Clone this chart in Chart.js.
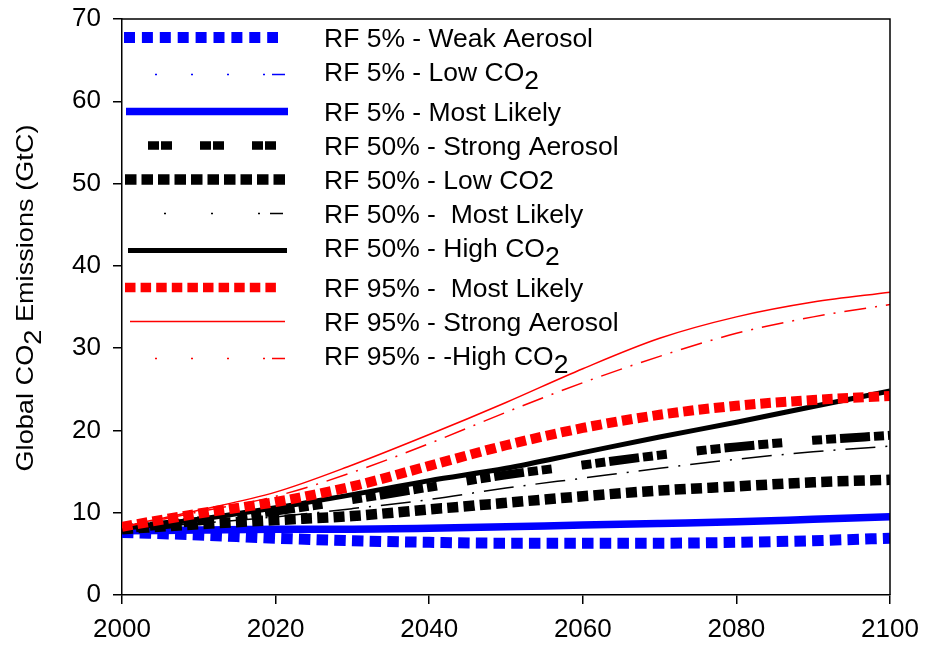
<!DOCTYPE html>
<html><head><meta charset="utf-8">
<script src="https://cdn.jsdelivr.net/npm/chart.js@4/dist/chart.umd.min.js"></script>
<style>html,body{margin:0;padding:0;background:#fff}#wrap{width:925px;height:649px;position:relative}</style>
</head><body><div id="wrap"><canvas id="c"></canvas></div>
<script>
// ---- data (GtC) ----
const years = [2000,2010,2020,2030,2040,2050,2060,2070,2080,2090,2100];
const rf5WeakAerosol    = [7.6,7.3,6.9,6.6,6.4,6.3,6.3,6.3,6.4,6.6,6.9];
const rf5LowCO2         = [7.7,7.8,7.9,7.9,8.0,8.2,8.4,8.6,8.8,9.1,9.4];
const rf5MostLikely     = [7.8,7.9,8.0,8.0,8.1,8.3,8.5,8.7,8.9,9.2,9.5];
const rf50StrongAerosol = [8.0,9.0,10.2,11.6,13.1,14.6,15.8,17.0,18.0,18.8,19.4];
const rf50LowCO2        = [8.0,8.6,9.1,9.6,10.4,11.2,12.0,12.7,13.2,13.7,14.0];
const rf50MostLikely    = [8.0,8.7,9.5,10.5,11.6,13.0,14.2,15.4,16.5,17.4,18.1];
const rf50HighCO2       = [8.1,9.2,10.6,12.2,13.9,15.4,17.3,19.2,21.0,22.9,24.8];
const rf95MostLikely    = [8.3,9.9,11.3,13.2,15.7,18.2,20.3,21.9,23.0,23.7,24.2];
const rf95StrongAerosol = [8.3,10.3,12.5,15.8,19.5,23.4,27.5,31.2,33.8,35.6,36.8];
const rf95HighCO2       = [8.2,10.1,12.0,14.9,18.4,22.2,25.8,29.0,31.8,33.8,35.3];

const seriesLabels = [
  'RF 5% - Weak Aerosol',
  'RF 5% - Low CO_2',
  'RF 5% - Most Likely',
  'RF 50% - Strong Aerosol',
  'RF 50% - Low CO2',
  'RF 50% -  Most Likely',
  'RF 50% - High CO_2',
  'RF 95% -  Most Likely',
  'RF 95% - Strong Aerosol',
  'RF 95% - -High CO_2'
];
const xTicks = [2000,2020,2040,2060,2080,2100];
const yTicks = [0,10,20,30,40,50,60,70];
const yTitle = 'Global CO_2 Emissions (GtC)';

// ---- styles ----
const BLUE = '#0000ff', BLACK = '#000000', RED = '#ff0000';
const DASHDOT_LEGEND = [2,34,2,34,2,34,2,7,13,1000];
const styles = [
  {c:BLUE,  w:11,  dash:[11.5,6.2], lw:11, ldash:[11,6.9], lx:[124,278]},
  {c:BLUE,  w:1.5, dash:[22,8,2,8], lw:1.5, ldash:DASHDOT_LEGEND, lx:[155,285]},
  {c:BLUE,  w:7.5, dash:[], lw:7.5, ldash:[], lx:[126,288]},
  {c:BLACK, w:9,   dash:[10,4,10,4,30,4,10,4,10,30], lw:8.5, ldash:[11,2,11,28], lx:[148,276]},
  {c:BLACK, w:10.5,dash:[11,5.3], lw:10.5, ldash:[11.5,5], lx:[125,285]},
  {c:BLACK, w:1.5, dash:[30,10,2,10], lw:1.5, ldash:[2,45,2,45,2,10,13,1000], lx:[164,285]},
  {c:BLACK, w:5,   dash:[], lw:5, ldash:[], lx:[128,287]},
  {c:RED,   w:10,  dash:[10.5,5], lw:9.5, ldash:[10.5,5.1], lx:[125,276]},
  {c:RED,   w:1.5, dash:[], lw:1.5, ldash:[], lx:[130,285]},
  {c:RED,   w:1.5, dash:[22,9,2,9], lw:1.5, ldash:DASHDOT_LEGEND, lx:[155,285]}
];
const seriesData = [rf5WeakAerosol, rf5LowCO2, rf5MostLikely, rf50StrongAerosol, rf50LowCO2,
  rf50MostLikely, rf50HighCO2, rf95MostLikely, rf95StrongAerosol, rf95HighCO2];

const FONT = '"Liberation Sans", Arial, sans-serif';

function richWidth(ctx, text){
  let w = 0;
  for (const p of text.split(/(_\d)/)) { if (!p) continue; w += ctx.measureText(p[0]==='_'?p.slice(1):p).width; }
  return w;
}
function drawRich(ctx, text, x, y, size, sx){
  ctx.save(); ctx.translate(x, y); ctx.scale(sx, 1);
  let cx = 0;
  for (const p of text.split(/(_\d)/)) {
    if (!p) continue;
    if (p[0]==='_') { const t=p.slice(1); ctx.fillText(t, cx, size*0.33); cx += ctx.measureText(t).width; }
    else { ctx.fillText(p, cx, 0); cx += ctx.measureText(p).width; }
  }
  ctx.restore();
}

const datasets = seriesData.map((arr,i)=>({
  label: seriesLabels[i],
  data: years.map((x,k)=>({x:x, y:arr[k]})),
  borderColor: styles[i].c,
  backgroundColor: styles[i].c,
  borderWidth: styles[i].w,
  borderDash: styles[i].dash,
  borderCapStyle: 'butt',
  borderJoinStyle: 'miter',
  pointRadius: 0,
  fill: false,
  cubicInterpolationMode: 'monotone',
  order: seriesData.length - i
}));

const legendPlugin = {
  id: 'customLegend',
  afterDraw(chart){
    const ctx = chart.ctx;
    const size = 25.5;
    ctx.save();
    ctx.font = size + 'px ' + FONT;
    ctx.textBaseline = 'alphabetic';
    ctx.fillStyle = '#000';
    const sx = 269 / ctx.measureText(seriesLabels[0]).width;
    let base = 47;
    chart.data.datasets.forEach((d,i)=>{
      const st = styles[i];
      const hasSub = /_\d/.test(d.label);
      const sy = base - (hasSub ? 6.5 : 9.5);
      ctx.save();
      ctx.strokeStyle = st.c; ctx.lineWidth = st.lw; ctx.lineCap = 'butt';
      ctx.setLineDash(st.ldash);
      ctx.beginPath(); ctx.moveTo(st.lx[0], sy); ctx.lineTo(st.lx[1], sy); ctx.stroke();
      ctx.restore();
      drawRich(ctx, d.label, 324, base, size, sx);
      base += hasSub ? 40 : 34;
    });
    // y axis title
    const ts = 24.5;
    ctx.font = ts + 'px ' + FONT;
    const tw = richWidth(ctx, yTitle);
    const tsx = 347 / tw;
    ctx.translate(33, 298);
    ctx.rotate(-Math.PI/2);
    drawRich(ctx, yTitle, -tw*tsx/2, 0, ts, tsx);
    ctx.restore();
    // frame
    const a = chart.chartArea;
    ctx.save();
    ctx.strokeStyle = '#000'; ctx.lineWidth = 1.5;
    ctx.beginPath();
    ctx.moveTo(a.left, a.top); ctx.lineTo(a.right, a.top); ctx.lineTo(a.right, a.bottom);
    ctx.stroke();
    ctx.restore();
  }
};

new Chart(document.getElementById('c'), {
  type: 'line',
  data: { datasets },
  options: {
    responsive: true, maintainAspectRatio: false, animation: false,
    layout: { padding: { top: 19, right: 35, left: 0, bottom: 0 } },
    plugins: { legend: { display: false }, tooltip: { enabled: false } },
    scales: {
      x: {
        type: 'linear', min: 2000, max: 2100,
        afterFit(s){ s.height = 54; s.paddingLeft = 0; s.paddingRight = 0; },
        afterBuildTicks(s){ s.ticks = xTicks.map(v=>({value:v})); },
        ticks: { color:'#000', font:{ family: FONT, size: 26 }, padding: 10, callback: v => String(v), maxRotation: 0 },
        grid: { drawOnChartArea: false, drawTicks: true, tickLength: 9, color: '#000', lineWidth: 1.5 },
        border: { display: true, color: '#000', width: 1.5 }
      },
      y: {
        type: 'linear', min: 0, max: 70,
        afterFit(s){ s.width = 122; s.paddingTop = 0; s.paddingBottom = 0; },
        afterBuildTicks(s){ s.ticks = yTicks.map(v=>({value:v})); },
        ticks: { color:'#000', font:{ family: FONT, size: 26 }, padding: 12, callback: v => String(v) },
        grid: { drawOnChartArea: false, drawTicks: true, tickLength: 9, color: '#000', lineWidth: 1.5 },
        border: { display: true, color: '#000', width: 1.5 }
      }
    }
  },
  plugins: [legendPlugin]
});
</script></body></html>
